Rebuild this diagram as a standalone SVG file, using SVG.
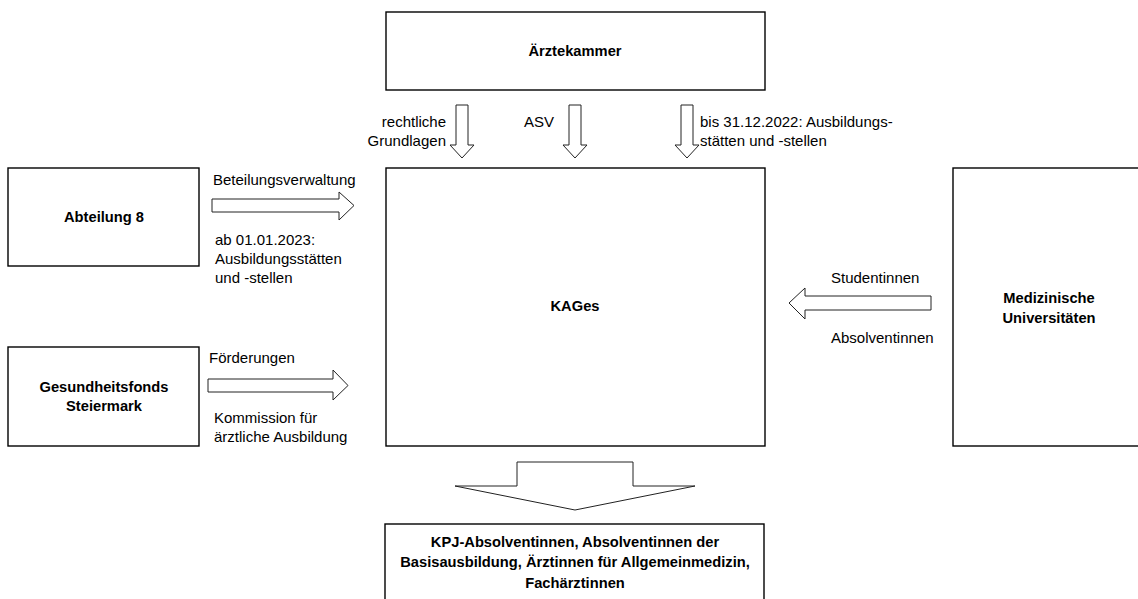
<svg xmlns="http://www.w3.org/2000/svg" width="1138" height="599" viewBox="0 0 1138 599">
<style>
.box{fill:#fff;stroke:#000;stroke-width:1.4}
.arr{fill:#fff;stroke:#222;stroke-width:1}
text{font-family:"Liberation Sans",Arial,sans-serif;font-size:15px;fill:#000}
.b{font-weight:bold;text-anchor:middle;font-size:14.7px}
</style>
<rect width="1138" height="599" fill="#fff"/>
<g id="aerztekammer"><rect class="box" x="386" y="12" width="379" height="78"/><text class="b" x="575" y="56">Ärztekammer</text></g>
<g id="kages"><rect class="box" x="386" y="168" width="379" height="278"/><text class="b" x="575" y="311">KAGes</text></g>
<g id="abteilung8"><rect class="box" x="8" y="168" width="191" height="98"/><text class="b" x="104" y="222">Abteilung 8</text></g>
<g id="gesundheitsfonds"><rect class="box" x="8" y="347" width="191" height="99"/><text class="b" x="104" y="392">Gesundheitsfonds</text><text class="b" x="104" y="411">Steiermark</text></g>
<g id="meduni"><rect class="box" x="953" y="168" width="200" height="278"/><text class="b" x="1049" y="303">Medizinische</text><text class="b" x="1049" y="323">Universitäten</text></g>
<g id="absolventen"><rect class="box" x="385" y="524" width="379" height="100"/><text class="b" x="575" y="547">KPJ-Absolventinnen, Absolventinnen der</text><text class="b" x="575" y="567">Basisausbildung, Ärztinnen für Allgemeinmedizin,</text><text class="b" x="575" y="588">Fachärztinnen</text></g>
<g id="connectors">
<path class="arr" d="M456,105 H468 V145 H474 L462,158 L450,145 H456 Z"/>
<path class="arr" d="M569,105 H581 V145 H587 L575,158 L563,145 H569 Z"/>
<path class="arr" d="M681,105 H693 V145 H699 L687,158 L675,145 H681 Z"/>
<path class="arr" d="M212,199 H339 V192 L354,205.5 L339,220 V212 H212 Z"/>
<path class="arr" d="M208,379 H333 V370 L348,385.5 L333,400 V392 H208 Z"/>
<path class="arr" d="M931,296 H805 V288 L789,303 L805,319 V310 H931 Z"/>
<path class="arr" d="M517,462 H633 V486 H695 L575,510 L455,486 H517 Z"/>
</g>
<g id="labels">
<text x="446" y="127" text-anchor="end">rechtliche</text>
<text x="446" y="146" text-anchor="end">Grundlagen</text>
<text x="524" y="127">ASV</text>
<text x="700" y="127">bis 31.12.2022: Ausbildungs-</text>
<text x="700" y="146">stätten und -stellen</text>
<text x="213" y="185">Beteilungsverwaltung</text>
<text x="215" y="245">ab 01.01.2023:</text>
<text x="215" y="264">Ausbildungsstätten</text>
<text x="215" y="283">und -stellen</text>
<text x="209" y="363">Förderungen</text>
<text x="214" y="423">Kommission für</text>
<text x="214" y="442">ärztliche Ausbildung</text>
<text x="831" y="283">Studentinnen</text>
<text x="831" y="343">Absolventinnen</text>
</g>
</svg>
